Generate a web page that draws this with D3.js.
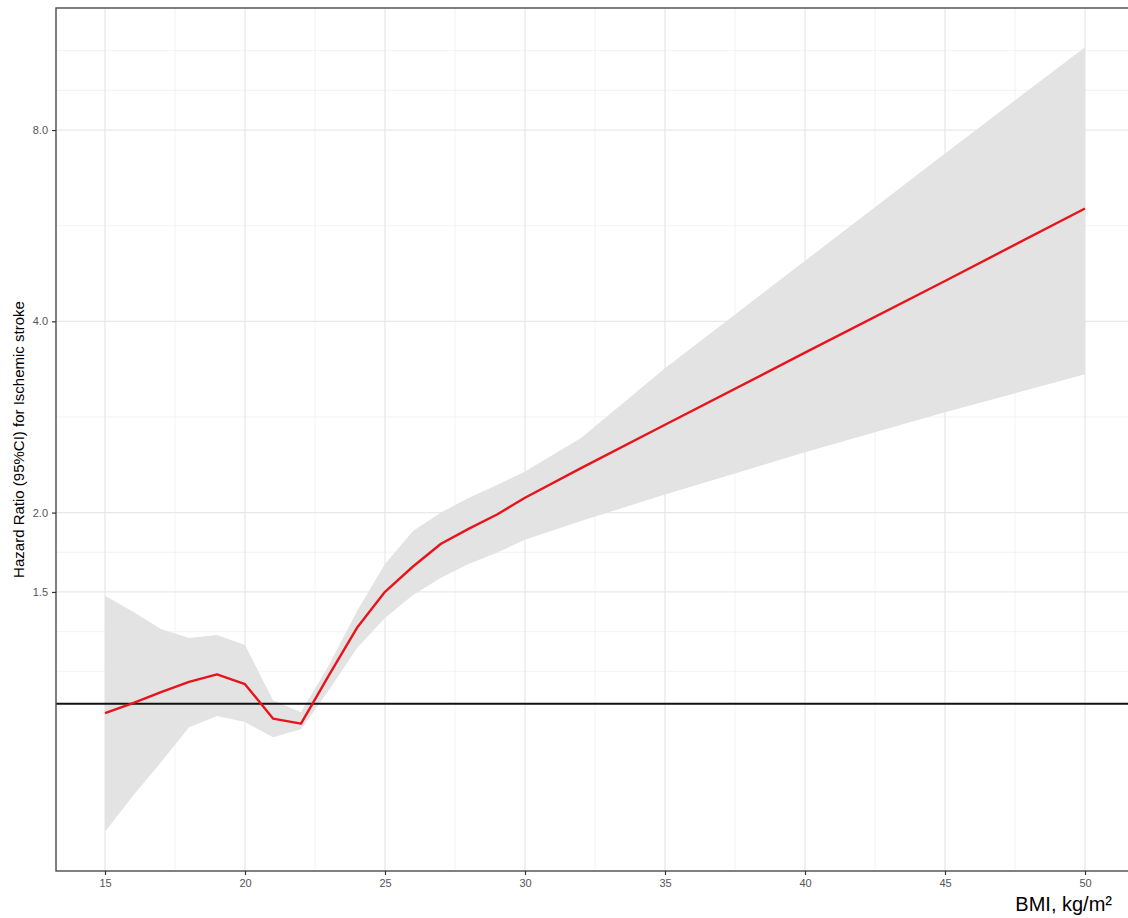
<!DOCTYPE html>
<html>
<head>
<meta charset="utf-8">
<script src="https://cdn.jsdelivr.net/npm/d3@7"></script>
<style>
  html, body { margin: 0; padding: 0; background: #ffffff; }
  svg { display: block; font-family: "Liberation Sans", Arial, Helvetica, sans-serif; }
</style>
</head>
<body>
<svg id="chart" width="1128" height="918"></svg>
<script>
// ---- data ----
const bmi   = [15, 16, 17, 18, 19, 20, 21, 22, 23, 24, 25, 26, 27, 28, 29, 30, 32, 35, 40, 45, 50];
const hr    = [0.967, 1.003, 1.043, 1.083, 1.113, 1.074, 0.948, 0.931, 1.11, 1.317, 1.501, 1.645, 1.786, 1.887, 1.986, 2.11, 2.35, 2.75, 3.57, 4.63, 6.02];
const lower = [0.629, 0.717, 0.809, 0.919, 0.957, 0.936, 0.886, 0.912, 1.051, 1.224, 1.365, 1.484, 1.579, 1.662, 1.729, 1.813, 1.94, 2.135, 2.488, 2.876, 3.303];
const upper = [1.479, 1.396, 1.312, 1.270, 1.283, 1.238, 1.013, 0.970, 1.151, 1.40, 1.66, 1.87, 2.0, 2.11, 2.21, 2.32, 2.62, 3.375, 4.98, 7.35, 10.80];
const refLine = 1.0;

const xTicks = [15, 20, 25, 30, 35, 40, 45, 50];
const xTickLabels = ["15", "20", "25", "30", "35", "40", "45", "50"];
const yTicks = [1.5, 2, 4, 8];
const yTickLabels = ["1.5", "2.0", "4.0", "8.0"];
const xTitle = "BMI, kg/m\u00B2";
const yTitle = "Hazard Ratio (95%CI) for Ischemic stroke";

// ---- layout ----
const svg = d3.select("#chart");
const panel = { left: 56, top: 8, right: 1134, bottom: 871 };

// x scale with 5% expansion
const xExt = d3.extent(bmi);
const xPad = (xExt[1] - xExt[0]) * 0.05;
const x = d3.scaleLinear().domain([xExt[0] - xPad, xExt[1] + xPad]).range([panel.left, panel.right]);

// y log scale with 5% expansion in log space
const yMin = Math.log(d3.min(lower)), yMax = Math.log(d3.max(upper));
const yPad = (yMax - yMin) * 0.05;
const y = d3.scaleLog().domain([Math.exp(yMin - yPad), Math.exp(yMax + yPad)]).range([panel.bottom, panel.top]);

const data = bmi.map((b, i) => ({ b, hr: hr[i], lo: lower[i], hi: upper[i] }));

// ---- minor breaks (ggplot-style midpoints, extended one step) ----
function minorBreaks(majors, tf, inv, lims) {
  let b = majors.map(tf);
  const bd = b[1] - b[0];
  const l0 = tf(lims[0]), l1 = tf(lims[1]);
  if (l0 < b[0]) b = [b[0] - bd, ...b];
  if (l1 > b[b.length - 1]) b = [...b, b[b.length - 1] + bd];
  const out = [];
  for (let i = 0; i < b.length; i++) {
    out.push(b[i]);
    if (i < b.length - 1) out.push((b[i] + b[i + 1]) / 2);
  }
  return out.filter(v => v >= Math.min(l0, l1) && v <= Math.max(l0, l1)).map(inv);
}
const xMinor = minorBreaks(xTicks, v => v, v => v, x.domain()).filter(v => !xTicks.includes(v));
const yMinor = minorBreaks(yTicks, Math.log, Math.exp, y.domain())
  .filter(v => !yTicks.some(t => Math.abs(t - v) < 1e-6));

// clip
svg.append("defs").append("clipPath").attr("id", "panelClip")
  .append("rect")
  .attr("x", panel.left).attr("y", panel.top)
  .attr("width", panel.right - panel.left).attr("height", panel.bottom - panel.top);

const g = svg.append("g").attr("clip-path", "url(#panelClip)");

// grid
g.selectAll(".xminor").data(xMinor).join("line")
  .attr("x1", d => x(d)).attr("x2", d => x(d))
  .attr("y1", panel.top).attr("y2", panel.bottom)
  .attr("stroke", "#f0f0f0").attr("stroke-width", 0.8);
g.selectAll(".yminor").data(yMinor).join("line")
  .attr("x1", panel.left).attr("x2", panel.right)
  .attr("y1", d => y(d)).attr("y2", d => y(d))
  .attr("stroke", "#f0f0f0").attr("stroke-width", 0.8);
g.selectAll(".xmajor").data(xTicks).join("line")
  .attr("x1", d => x(d)).attr("x2", d => x(d))
  .attr("y1", panel.top).attr("y2", panel.bottom)
  .attr("stroke", "#e8e8e8").attr("stroke-width", 1.3);
g.selectAll(".ymajor").data(yTicks).join("line")
  .attr("x1", panel.left).attr("x2", panel.right)
  .attr("y1", d => y(d)).attr("y2", d => y(d))
  .attr("stroke", "#e8e8e8").attr("stroke-width", 1.3);

// ribbon
const area = d3.area()
  .x(d => x(d.b))
  .y0(d => y(d.lo))
  .y1(d => y(d.hi));
g.append("path").datum(data)
  .attr("d", area)
  .attr("fill", "#e3e3e3");

// reference line
g.append("line")
  .attr("x1", panel.left).attr("x2", panel.right)
  .attr("y1", y(refLine)).attr("y2", y(refLine))
  .attr("stroke", "#111111").attr("stroke-width", 2);

// HR line
const line = d3.line().x(d => x(d.b)).y(d => y(d.hr));
g.append("path").datum(data)
  .attr("d", line)
  .attr("fill", "none")
  .attr("stroke", "#e8141b")
  .attr("stroke-width", 2.4)
  .attr("stroke-linejoin", "round");

// panel border
svg.append("rect")
  .attr("x", panel.left).attr("y", panel.top)
  .attr("width", panel.right - panel.left).attr("height", panel.bottom - panel.top)
  .attr("fill", "none").attr("stroke", "#4a4a4a").attr("stroke-width", 1.4);

// axes
const xAxis = d3.axisBottom(x).tickValues(xTicks)
  .tickFormat((d, i) => xTickLabels[i]).tickSize(4).tickPadding(4);
const xg = svg.append("g").attr("transform", `translate(0,${panel.bottom})`).call(xAxis);
xg.select(".domain").remove();
xg.selectAll(".tick line").attr("stroke", "#333333").attr("stroke-width", 1.2);
xg.selectAll(".tick text").attr("fill", "#555555").attr("font-size", 11)
  .attr("font-family", "Liberation Sans, Arial, sans-serif");

const yAxis = d3.axisLeft(y).tickValues(yTicks)
  .tickFormat((d, i) => yTickLabels[i]).tickSize(4).tickPadding(4);
const yg = svg.append("g").attr("transform", `translate(${panel.left},0)`).call(yAxis);
yg.select(".domain").remove();
yg.selectAll(".tick line").attr("stroke", "#333333").attr("stroke-width", 1.2);
yg.selectAll(".tick text").attr("fill", "#555555").attr("font-size", 11)
  .attr("font-family", "Liberation Sans, Arial, sans-serif");

// titles
svg.append("text")
  .attr("x", 1112).attr("y", 911)
  .attr("text-anchor", "end")
  .attr("font-size", 20)
  .attr("fill", "#000000")
  .text(xTitle);

svg.append("text")
  .attr("transform", `translate(24,${(panel.top + panel.bottom) / 2}) rotate(-90)`)
  .attr("text-anchor", "middle")
  .attr("font-size", 15)
  .attr("fill", "#000000")
  .text(yTitle);
</script>
</body>
</html>
